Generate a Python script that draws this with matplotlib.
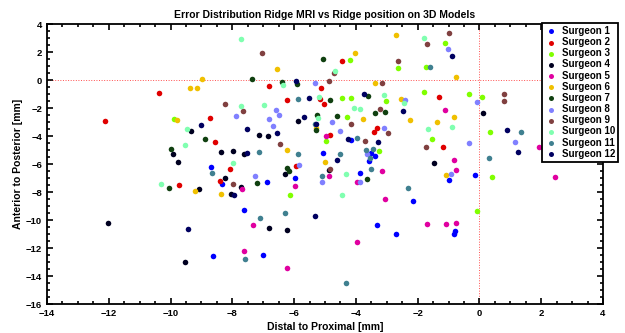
import matplotlib
matplotlib.use('Agg')
import matplotlib.pyplot as plt
from matplotlib.ticker import MultipleLocator

plt.rcParams['font.family'] = ['Liberation Sans', 'DejaVu Sans']
plt.rcParams['font.weight'] = 'bold'

# Данные по каждому хирургу: (distal-proximal, anterior-posterior) в мм
s1 = [(-8.7, -6.21), (-8.33, -7.43), (-7.62, -9.26), (-6.88, -7.31), (-8.62, -12.59), (-7.01, -12.48),
      (-5.96, -7.0), (-5.06, -5.19), (-4.16, -4.26), (-3.5, -5.2), (-3.38, -5.45), (-3.58, -5.81),
      (-3.87, -6.62), (-3.32, -10.33), (-2.71, -11.02), (-2.15, -8.62), (-0.98, -7.14), (-0.13, -6.79),
      (-0.79, -10.81), (-0.82, -11.0)]
s2 = [(-12.12, -2.95), (-10.38, -0.91), (-8.73, -2.74), (-8.57, -4.43), (-9.73, -7.48), (-8.09, -6.33),
      (-8.41, -7.21), (-6.8, -0.45), (-6.24, -1.43), (-5.93, -6.12), (-4.45, 1.38), (-5.12, -0.57),
      (-5.15, -1.38), (-5.04, -1.74), (-4.83, -3.9), (-3.4, -3.74), (-3.31, -3.45), (-1.3, -1.21),
      (-1.18, -4.76)]
s3 = [(-9.9, -2.81), (-6.13, -8.19), (-4.19, 1.4), (-2.64, 0.88), (-1.74, 0.95), (-1.13, 2.62),
      (-4.44, -1.31), (-4.17, -1.29), (-3.02, -1.52), (-1.78, -0.86), (-0.35, -1.0), (0.07, -1.24),
      (-4.3, -2.62), (0.35, -3.69), (-4.97, -4.36), (-3.26, -5.07), (-1.55, -4.21), (-0.09, -9.36),
      (0.4, -6.95)]
s4 = [(-12.02, -10.21), (-9.33, -3.67), (-9.91, -5.29), (-9.75, -5.86), (-8.37, -5.14), (-7.99, -5.05),
      (-7.63, -5.26), (-7.14, -3.95), (-6.84, -3.98), (-5.87, -2.93), (-9.09, -7.79), (-9.54, -13.02),
      (-8.24, -7.02), (-8.04, -8.12), (-7.72, -7.62), (-6.8, -10.6), (-6.23, -10.74), (-6.3, -6.74),
      (-4.86, -6.45), (-1.48, -5.9), (0.12, -2.38)]
s5 = [(-7.68, -7.76), (-7.32, -10.38), (-7.61, -12.21), (-6.22, -13.45), (-5.98, -7.55), (-4.96, -3.98),
      (-4.87, -6.88), (-3.15, -6.5), (-3.98, -7.29), (-3.06, -8.48), (-3.98, -11.55), (-1.71, -10.26),
      (-1.09, -10.31), (-0.77, -10.19), (-0.75, -6.45), (-0.83, -5.71), (-1.13, -2.14), (1.93, -4.76),
      (2.44, -6.95)]
s6 = [(-8.99, 0.05), (-9.37, -0.55), (-9.15, -0.55), (-6.57, 0.76), (-9.8, -2.83), (-9.2, -7.93),
      (-8.37, -8.14), (-6.22, -5.0), (-2.69, 3.21), (-4.04, 1.9), (-0.77, 0.24), (-3.37, -0.19),
      (-2.54, -1.38), (-3.77, -2.81), (-2.25, -2.83), (-1.39, -3.0), (-0.83, -2.64), (-4.99, -5.86),
      (-1.09, -6.79), (-5.3, -3.45)]
s7 = [(-7.36, 0.1), (-6.39, -0.12), (-5.92, -0.29), (-5.27, -2.48), (-5.29, -3.57), (-8.9, -4.24),
      (-10.0, -4.9), (-10.06, -7.74), (-7.19, -7.38), (-6.22, -6.29), (-6.18, -6.48), (-5.05, 1.5),
      (-4.83, -1.45), (-3.61, -1.17), (-3.38, -2.38), (-3.06, -2.29), (-4.61, -2.6), (-3.63, -7.09)]
s8 = [(-5.33, -0.19), (-7.88, -2.55), (-6.58, -2.12), (-6.5, -2.52), (-6.8, -2.79), (-6.68, -3.31),
      (-7.27, -6.83), (-5.83, -6.05), (-1.03, 2.19), (-2.41, -1.45), (-0.08, -1.55), (-4.78, -3.0),
      (-4.5, -3.67), (-3.1, -3.45), (-0.34, -4.52), (-3.63, -5.29), (-5.11, -7.26), (-3.87, -7.26),
      (-0.93, -6.69), (1.14, -4.45)]
s9 = [(-7.04, 1.95), (-8.23, -1.71), (-7.66, -2.24), (-6.46, -4.57), (-7.98, -7.45), (-1.0, 3.36),
      (-1.71, 2.55), (-2.64, 1.33), (-4.71, 0.52), (-4.87, -0.1), (-3.14, -0.21), (-3.21, -2.1),
      (-4.17, -3.17), (-2.96, -3.79), (-3.71, -4.38), (-1.74, -4.76), (-4.83, -6.38), (0.79, -0.98),
      (0.81, -1.5)]
s10 = [(-7.73, 2.9), (-6.37, -0.38), (-7.71, -1.86), (-6.97, -1.76), (-9.46, -3.48), (-9.52, -4.64),
       (-5.24, -2.71), (-5.19, -1.24), (-10.32, -7.45), (-7.97, -5.95), (-1.8, 3.02), (-4.67, 0.62),
       (-3.1, -1.1), (-2.45, -1.67), (-4.06, -1.98), (-3.87, -2.07), (-1.66, -3.48), (-0.9, -3.33),
       (-4.33, -6.69), (-4.44, -8.24)]
s11 = [(-5.87, -1.38), (-7.14, -5.12), (-5.88, -5.31), (-5.33, -3.17), (-8.66, -6.67), (-7.58, -12.76),
       (-7.12, -9.88), (-6.3, -9.48), (-1.6, 0.9), (-3.95, -4.17), (0.3, -5.57), (-4.52, -5.31),
       (-3.67, -5.02), (-3.45, -4.95), (-3.55, -5.59), (-5.11, -6.83), (-3.52, -6.38), (-2.3, -7.71),
       (-4.32, -14.5), (1.36, -3.71)]
s12 = [(-5.95, -0.07), (-5.51, -1.31), (-5.69, -2.62), (-5.3, -3.17), (-9.0, -3.21), (-7.53, -3.5),
       (-6.55, -3.81), (-7.53, -5.24), (-9.43, -10.64), (-7.95, -8.19), (-5.32, -9.69), (-0.88, 1.74),
       (-3.74, -1.0), (-2.47, -2.24), (-4.24, -4.19), (-3.3, -4.45), (-4.6, -5.71), (0.9, -3.6),
       (1.25, -5.12)]

surgeons = [s1, s2, s3, s4, s5, s6, s7, s8, s9, s10, s11, s12]
names = ['Surgeon %d' % (i + 1) for i in range(12)]
colors = ['#0000ff', '#e00000', '#80ff00', '#000020', '#e000a0', '#f0c000',
          '#104010', '#8080ff', '#804040', '#80ffb0', '#408090', '#000060']

fig = plt.figure(figsize=(6.25, 3.33), dpi=100)
ax = fig.add_axes([47 / 625, 1 - 304 / 333, 556 / 625, 280 / 333])

# нулевые линии
ax.axhline(0, color='#ff5050', linestyle=':', linewidth=0.7, zorder=1)
ax.axvline(0, color='#ff5050', linestyle=':', linewidth=0.7, zorder=1)

for pts, name, c in zip(surgeons, names, colors):
    xs = [p[0] for p in pts]
    ys = [p[1] for p in pts]
    ax.scatter(xs, ys, s=16, color=c, linewidths=0, label=name, zorder=3)

ax.set_xlim(-14, 4)
ax.set_ylim(-16, 4)
ax.xaxis.set_major_locator(MultipleLocator(2))
ax.yaxis.set_major_locator(MultipleLocator(2))
ax.xaxis.set_minor_locator(MultipleLocator(0.5))
ax.yaxis.set_minor_locator(MultipleLocator(0.5))
ax.tick_params(which='both', direction='in', top=True, right=True, labelsize=6.8, width=1.2)
ax.tick_params(which='major', length=4.5)
ax.tick_params(which='minor', length=2.5)
for sp in ax.spines.values():
    sp.set_linewidth(1.3)

ax.set_title('Error Distribution Ridge MRI vs Ridge position on 3D Models', fontsize=7.5,
             fontweight='bold', pad=4)
ax.set_xlabel('Distal to Proximal [mm]', fontsize=7.5, fontweight='bold', labelpad=3)
ax.set_ylabel('Anterior to Posterior [mm]', fontsize=7.5, fontweight='bold', labelpad=2)

leg = ax.legend(loc='upper right', bbox_to_anchor=(618 / 625, 1 - 23 / 333),
                bbox_transform=fig.transFigure, fontsize=7, frameon=True, fancybox=False,
                framealpha=1, edgecolor='black', handletextpad=0.5, labelspacing=0.12,
                borderpad=0.3, handlelength=1.2, borderaxespad=0, markerscale=0.9)
leg.get_frame().set_linewidth(1.3)
for t in leg.get_texts():
    t.set_fontweight('bold')

plt.savefig('out.png', dpi=100)
